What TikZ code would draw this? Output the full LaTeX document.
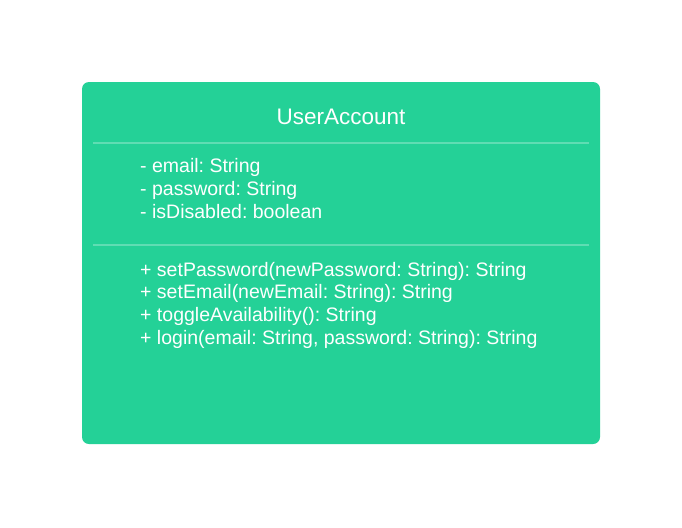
\documentclass[tikz,border=0pt]{standalone}
\usepackage{fontspec}
\setmainfont{Liberation Sans}
\frenchspacing
\definecolor{boxgreen}{HTML}{24D197}
\definecolor{sepgreen}{HTML}{5FDDB3}
\begin{document}
\begin{tikzpicture}[x=1pt,y=-1pt,
  classbox/.style={draw=none,fill=boxgreen,rounded corners=7pt},
  sepline/.style={draw=sepgreen,line width=1.2pt},
  txt/.style={text=white,inner sep=0pt,anchor=base west,font=\fontsize{19.5}{23}\selectfont\frenchspacing},
  ttl/.style={text=white,inner sep=0pt,anchor=base,font=\fontsize{22.5}{26}\selectfont}]
\useasboundingbox (0,0) rectangle (682,527);
\fill[white] (0,0) rectangle (682,527);
\path[classbox] (82,82) rectangle (600,444);
\node[ttl] (title) at (341,124) {UserAccount};
\coordinate (s1l) at (93,143); \coordinate (s1r) at (589,143);
\coordinate (s2l) at (93,245); \coordinate (s2r) at (589,245);
\draw[sepline] (s1l) -- (s1r);
\draw[sepline] (s2l) -- (s2r);
\node[txt] (a1) at (140,172) {- email: String};
\node[txt] (a2) at (140,195) {- password: String};
\node[txt] (a3) at (140,218) {- isDisabled: boolean};
\node[txt] (m1) at (140,276) {+ setPassword(newPassword: String): String};
\node[txt] (m2) at (140,298.7) {+ setEmail(newEmail: String): String};
\node[txt] (m3) at (140,321.3) {+ toggleAvailability(): String};
\node[txt] (m4) at (140,344) {+ login(email: String, password: String): String};
\end{tikzpicture}
\end{document}
